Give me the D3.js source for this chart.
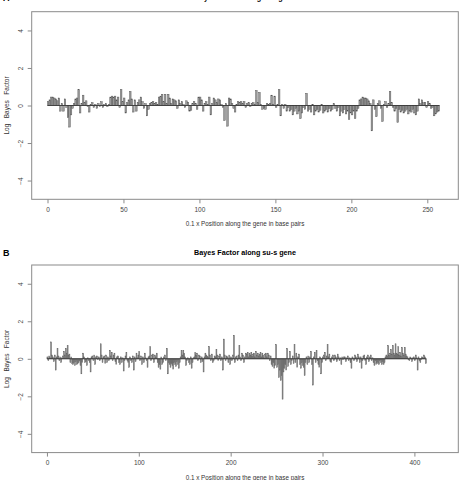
<!DOCTYPE html>
<html>
<head>
<meta charset="utf-8">
<script src="https://cdn.jsdelivr.net/npm/d3@7"></script>
<style>
  body { margin: 0; background: #fff; }
  svg { display: block; font-family: "Liberation Sans", Arial, Helvetica, sans-serif; }
</style>
</head>
<body>
<svg width="464" height="480"></svg>
<script>
// log Bayes factor per 10 bp window
var valuesA = [
  0.2, 0.3, 0.45, 0.45, 0.4, 0.35, 0.25, 0.4, -0.3, 0.1,
  -0.3, 0.35, -0.1, -0.65, -1.15, -0.5, -0.15, 0.1, 0.35, 0.4,
  0.85, -0.4, 0.1, 0.55, 0.15, 0.25, -0.05, -0.35, 0.05, 0.15,
  -0.1, 0.05, -0.15, 0.1, -0.05, 0.2, -0.1, 0.05, 0.1, -0.05,
  0.05, 0.45, 0.5, 0.45, 0.5, 0.3, 0.45, -0.1, 0.85, 0.2,
  0.4, -0.4, 0.15, 0.3, 0.75, 0.35, -0.35, 0.3, -0.3, 0.15,
  0.3, 0.45, 0.2, -0.15, 0.1, -0.55, -0.2, 0.1, 0.15, 0.2,
  0.1, 0.15, 0.05, 0.45, 0.5, 0.6, 0.2, 0.6, 0.1, 0.6,
  0.4, 0.1, 0.35, 0.3, 0.25, -0.15, 0.3, 0.1, 0.2, 0.05,
  -0.1, 0.25, 0.15, -0.3, -0.25, 0.1, 0.2, 0.1, -0.2, 0.45,
  0.45, 0.3, -0.3, 0.1, 0.2, 0.05, 0.45, -0.5, 0.1, 0.4,
  0.3, 0.15, 0.35, 0.3, 0.05, -0.1, -0.8, 0.1, -1.1, 0.4,
  0.35, 0.1, -0.15, -0.35, 0.05, 0.2, 0.15, 0.2, 0.1, 0.2,
  -0.1, 0.1, 0.15, -0.05, 0.1, 0.15, 0.05, 0.8, 0.15, 0.7,
  0.05, -0.2, -0.15, -0.2, 0.1, 0.05, 0.1, 0.55, 0.05, 0.5,
  -0.1, 0.05, 0.85, -0.55, 0.05, -0.15, 0.05, -0.3, -0.1, -0.3,
  -0.2, -0.5, -0.3, -0.15, -0.45, -0.3, -0.7, -0.4, -0.1, -0.2,
  0.65, -0.3, -0.2, -0.35, 0.05, -0.5, -0.3, -0.2, -0.35, -0.25,
  0.05, -0.4, -0.3, -0.2, -0.35, -0.15, -0.3, -0.2, 0.1, -0.15,
  -0.3, -0.1, -0.55, -0.3, -0.4, -0.2, -0.45, -0.3, -0.75, -0.4,
  -0.5, -0.3, -0.7, -0.3, -0.15, 0.3, 0.35, 0.45, 0.4, 0.4,
  0.35, 0.25, 0.1, -1.35, 0.3, -0.2, -0.6, 0.1, 0.25, -0.15,
  -0.85, 0.05, 0.2, -0.1, 0.1, 0.75, 0.15, -0.1, -0.3, -0.15,
  -0.9, -0.2, -0.35, -0.25, -0.4, -0.3, -0.2, -0.45, -0.3, -0.35,
  -0.2, -0.4, -0.5, -0.3, 0.35, 0.1, 0.3, 0.15, 0.15, -0.1,
  0.2, 0.1, -0.15, -0.1, -0.55, -0.45, -0.35, -0.3
];

var valuesB = [
  0.1, -0.1, 0.15, 0.05, 0.9, 0.2, 0.1, -0.15, 0.2, -0.6,
  0.1, 0.55, 0.15, -0.1, 0.1, -0.2, 0.05, 0.15, 0.4, 0.2,
  0.55, 0.3, 0.7, 0.2, 0.25, -0.2, 0.1, -0.25, -0.3, -0.2,
  -0.35, -0.15, -0.3, -0.25, -0.2, -0.1, -0.35, -0.8, -0.2, 0.3,
  0.1, -0.2, -0.15, -0.35, 0.05, -0.1, -0.2, -0.7, 0.1, 0.15,
  -0.1, 0.2, -0.3, 0.1, 0.15, -0.05, 0.1, -0.1, 0.8, 0.2,
  -0.2, 0.1, 0.15, -0.25, 0.2, -0.2, 0.1, -0.1, 0.45, 0.15,
  0.35, -0.1, 0.2, 0.3, -0.15, -0.3, 0.1, 0.15, -0.2, -0.3,
  0.1, -0.2, 0.05, -0.65, -0.1, 0.15, 0.35, -0.1, -0.2, -0.45,
  0.1, -0.1, -0.2, 0.15, -0.6, 0.1, -0.15, 0.3, 0.05, 0.2,
  0.4, -0.1, 0.15, -0.3, 0.1, -0.2, 0.3, 0.05, -0.1, -0.45,
  0.1, 0.15, 0.65, -0.1, 0.2, 0.25, -0.2, 0.2, 0.1, 0.3,
  -0.2, -0.45, -0.3, -0.55, 0.1, -0.3, -0.2, 0.1, 0.2, -0.1,
  0.55, -0.8, -0.2, -0.3, -0.45, -0.25, -0.35, -0.55, -0.2, -0.3,
  -0.4, -0.15, -0.3, -0.5, -0.2, 0.1, 0.45, 0.2, 0.45, 0.3,
  0.1, -0.35, -0.1, 0.05, -0.2, -0.3, 0.1, -0.5, -0.2, 0.05,
  0.1, 0.35, 0.2, 0.3, -0.1, 0.2, 0.15, -0.2, 0.1, -0.15,
  -0.7, 0.1, 0.3, 0.2, 0.15, 0.1, 0.65, 0.2, -0.1, 0.25,
  -0.2, -0.1, 0.15, 0.1, 0.5, 0.2, -0.1, 0.15, 0.25, -0.1,
  0.1, -0.6, 1.05, 0.2, -0.1, 0.15, 0.1, -0.2, 0.2, -0.3,
  0.1, -0.1, 0.2, 1.25, -0.2, 0.1, 0.15, -0.1, 0.2, 0.7,
  0.1, -0.1, 0.3, 0.2, -0.2, 0.1, 0.3, 0.25, 0.35, 0.1,
  0.3, 0.2, 0.35, 0.15, 0.25, 0.3, 0.1, 0.4, 0.2, 0.3,
  0.15, 0.25, 0.35, 0.1, 0.3, 0.2, 0.05, 0.25, 0.3, 0.1,
  0.3, 0.2, -0.1, 0.15, -0.3, -0.4, -0.2, -0.5, -0.35, 0.75,
  -0.45, -0.3, -1.0, -0.6, -1.15, -0.9, -2.15, -0.7, -0.5, -0.3,
  -0.6, 0.55, -0.4, -0.2, 0.4, -0.3, -0.1, 0.15, -0.25, 0.75,
  -0.2, 0.3, -0.45, 0.1, 0.25, -0.3, -0.5, -0.2, -0.35, -0.45,
  -0.9, -0.2, 0.1, -0.3, 0.15, -0.2, 0.1, 0.4, -0.3, -1.4,
  0.1, 0.35, -0.2, 0.45, -0.1, -0.3, -0.45, 0.1, -0.8, -0.2,
  0.1, 0.2, 0.35, -0.1, 0.15, 0.75, 0.1, 0.25, -0.15, -0.2,
  0.1, 0.2, -0.1, 0.2, 0.1, -0.15, 0.25, 0.1, -0.1, 0.05,
  -0.3, 0.1, -0.05, 0.1, 0.1, -0.15, 0.05, 0.15, -0.1, 0.05,
  -0.2, -0.5, 0.1, 0.05, -0.1, 0.2, 0.1, -0.15, 0.25, 0.1,
  -0.2, 0.1, -0.5, -0.1, 0.15, 0.2, -0.1, -0.3, 0.1, 0.2,
  -0.15, 0.1, 0.2, -0.1, 0.05, -0.2, -0.35, -0.1, -0.3, -0.2,
  -0.25, -0.3, -0.1, -0.2, -0.3, -0.15, -0.3, -0.2, 0.1, 0.2,
  0.15, 0.7, 0.2, 0.3, 0.5, 0.25, 0.7, 0.3, 0.2, 0.8,
  0.3, 0.25, 0.65, 0.2, 0.35, 0.15, 0.6, 0.3, 0.2, 0.6,
  0.25, 0.15, 0.1, -0.05, -0.1, 0.1, 0.05, -0.15, 0.05, 0.1,
  -0.1, 0.2, 0.05, -0.6, 0.1, -0.1, -0.2, -0.05, 0.1, 0.05,
  0.2, 0.1, -0.25
];

var xTicksA = [0, 50, 100, 150, 200, 250];
var xTicksB = [0, 100, 200, 300, 400];
var yTicks = [-4, -2, 0, 2, 4];

var titleA = "Bayes Factor along su-f gene";
var titleB = "Bayes Factor along su-s gene";
var xTitle = "0.1 x Position along the gene in base pairs";
var yTitle = "Log\u00a0\u00a0\u00a0Bayes\u00a0\u00a0\u00a0Factor";

var svg = d3.select("svg");
var left = 31.7, right = 458.3;

function drawPanel(top, values, xDomain, xTicks, title, letter, titleY) {
  var bottom = top + 187.6;
  var g = svg.append("g");

  var x = d3.scaleLinear().domain(xDomain).range([left, right]);
  var y = d3.scaleLinear().domain([-5, 5]).range([bottom, top]);

  // bars
  g.append("g").selectAll("rect")
    .data(values).enter()
    .append("rect")
    .attr("x", function(d, i) { return x(i); })
    .attr("width", function(d, i) { return x(i + 1) - x(i); })
    .attr("y", function(d) { return y(Math.max(0, d)); })
    .attr("height", function(d) { return Math.abs(y(d) - y(0)); })
    .attr("fill", "#9c9c9c")
    .attr("stroke", "#505050")
    .attr("stroke-width", 0.45);

  g.append("line")
    .attr("x1", x(0)).attr("x2", x(values.length))
    .attr("y1", y(0)).attr("y2", y(0))
    .attr("stroke", "#3a3a3a")
    .attr("stroke-width", 0.9);

  // frame
  g.append("rect")
    .attr("x", left).attr("y", top)
    .attr("width", right - left).attr("height", bottom - top)
    .attr("fill", "none")
    .attr("stroke", "#8a8a8a")
    .attr("stroke-width", 1);

  var xAxis = d3.axisBottom(x).tickValues(xTicks).tickSize(4).tickPadding(3);
  var axX = g.append("g")
    .attr("transform", "translate(0," + bottom + ")")
    .call(xAxis);
  axX.select(".domain").remove();
  axX.selectAll("line").attr("stroke", "#8a8a8a");
  axX.selectAll("text")
    .attr("fill", "#444")
    .style("font-size", "6.5px")
    .attr("y", 12.5).attr("dy", 0);

  var yAxis = d3.axisLeft(y).tickValues(yTicks).tickSize(4);
  var axY = g.append("g")
    .attr("transform", "translate(" + left + ",0)")
    .call(yAxis);
  axY.select(".domain").remove();
  axY.selectAll("line").attr("stroke", "#8a8a8a");
  axY.selectAll("text")
    .attr("fill", "#444")
    .style("font-size", "6.5px")
    .attr("text-anchor", "middle")
    .attr("transform", "rotate(-90)")
    .attr("x", 0).attr("y", -8.4).attr("dy", 0);

  g.append("text")
    .attr("x", (left + right) / 2).attr("y", bottom + 27)
    .attr("text-anchor", "middle")
    .attr("fill", "#333")
    .style("font-size", "6.3px")
    .text(xTitle);

  g.append("text")
    .attr("transform", "translate(9," + (top + bottom) / 2 + ") rotate(-90)")
    .attr("text-anchor", "middle")
    .attr("fill", "#333")
    .style("font-size", "6.5px")
    .text(yTitle);

  g.append("text")
    .attr("x", (left + right) / 2).attr("y", titleY)
    .attr("text-anchor", "middle")
    .style("font-size", "7.2px")
    .style("font-weight", "bold")
    .text(title);

  g.append("text")
    .attr("x", 3).attr("y", titleY + 0.5)
    .style("font-size", "9px")
    .style("font-weight", "bold")
    .text(letter);
}

drawPanel(11.7, valuesA, [-10.4, 270.4], xTicksA, titleA, "A", 0.2);
drawPanel(265, valuesB, [-16.6, 447.8], xTicksB, titleB, "B", 255);
</script>
</body>
</html>
